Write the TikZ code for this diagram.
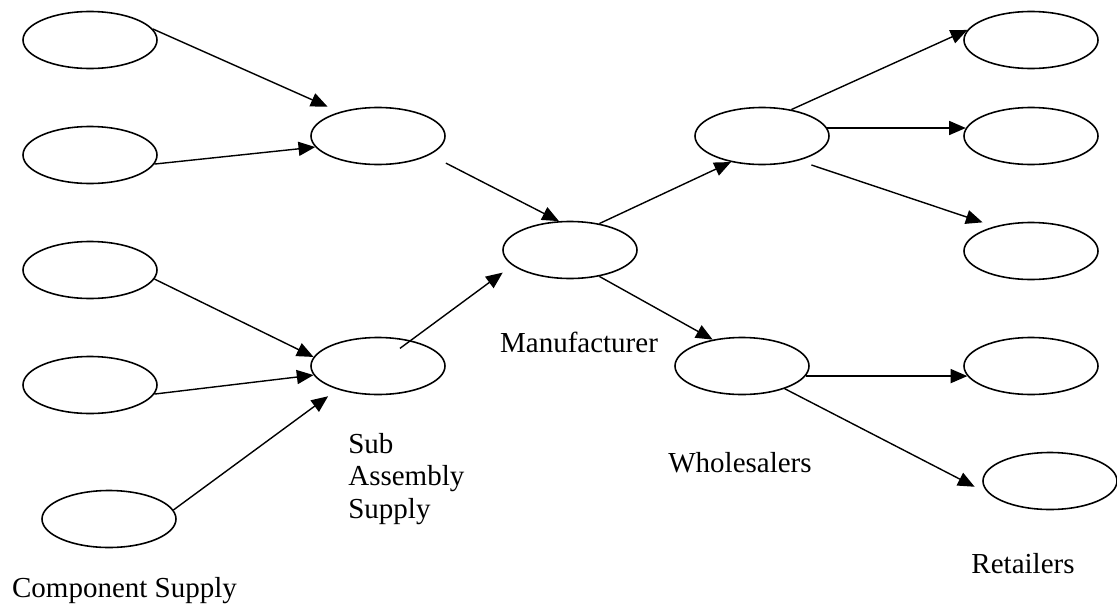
\documentclass[tikz,border=0pt]{standalone}
\usepackage{fontspec}
\setmainfont{Liberation Serif}
\usetikzlibrary{shapes.geometric,arrows.meta}

\begin{document}
\begin{tikzpicture}[
        stage/.style={ellipse,draw,line width=0.9pt,minimum width=2.68cm,minimum height=1.14cm,inner sep=0pt},
        >={Triangle[length=9.5pt,width=8pt]},
        flow/.style={->,line width=0.8pt},
        every node/.append style={font=\fontsize{16.5}{18.4}\selectfont}]
        \useasboundingbox (0,0) rectangle (22.34,12.08);
        %% Component supply
        \node[stage] (comp1) at (1.80,11.28) {};
        \node[stage] (comp2) at (1.80,8.98) {};
        \node[stage] (comp3) at (1.80,6.68) {};
        \node[stage] (comp4) at (1.80,4.38) {};
        \node[stage] (comp5) at (2.18,1.70) {};
        %% Sub assembly, manufacturer, wholesalers
        \node[stage] (sub1) at (7.56,9.36) {};
        \node[stage] (sub2) at (7.56,4.76) {};
        \node[stage] (manu) at (11.40,7.08) {};
        \node[stage] (whole1) at (15.24,9.36) {};
        \node[stage] (whole2) at (14.84,4.76) {};
        %% Retailers
        \node[stage] (ret1) at (20.62,11.28) {};
        \node[stage] (ret2) at (20.62,9.36) {};
        \node[stage] (ret3) at (20.62,7.06) {};
        \node[stage] (ret4) at (20.62,4.76) {};
        \node[stage] (ret5) at (21.00,2.46) {};
        %% Labels
        \node[anchor=base] (complbl) at (2.49,0.14) {Component Supply};
        \node[anchor=north west,align=left,inner sep=0pt] (sublbl) at (6.96,3.42) {Sub\\Assembly\\Supply};
        \node[anchor=base] (manulbl) at (11.58,5.04) {Manufacturer};
        \node[anchor=base] (wholelbl) at (14.80,2.64) {Wholesalers};
        \node[anchor=base] (retlbl) at (20.46,0.62) {Retailers};
        %% Flows
        \draw[flow,shorten >=0.26cm] (comp1.10) -- (sub1.148);
        \draw[flow] (comp2.-8) -- (sub1.190);
        \draw[flow] (comp3.-8) -- (sub2.172);
        \draw[flow] (comp4.-8) -- (sub2.188);
        \draw[flow,shorten >=0.23cm] (comp5.8) -- (sub2.210);
        \draw[flow,shorten <=0.36cm] (sub1.-20) -- (manu.111);
        \draw[flow,shorten <=-0.27cm,shorten >=0.24cm] (sub2.38) -- (manu.195);
        \draw[flow] (manu.42) -- (whole1.220);
        \draw[flow] (manu.-42) -- (whole2.138);
        \draw[flow] (whole1.42) -- (ret1.171);
        \draw[flow] (whole1.7) -- (ret2.173);
        \draw[flow,shorten <=0.27cm,shorten >=0.25cm] (whole1.-34) -- (ret3.146);
        \draw[flow] (whole2.-9) -- (ret4.189);
        \draw[flow,shorten >=0.35cm] (whole2.-28) -- (ret5.193);
\end{tikzpicture}
\end{document}
